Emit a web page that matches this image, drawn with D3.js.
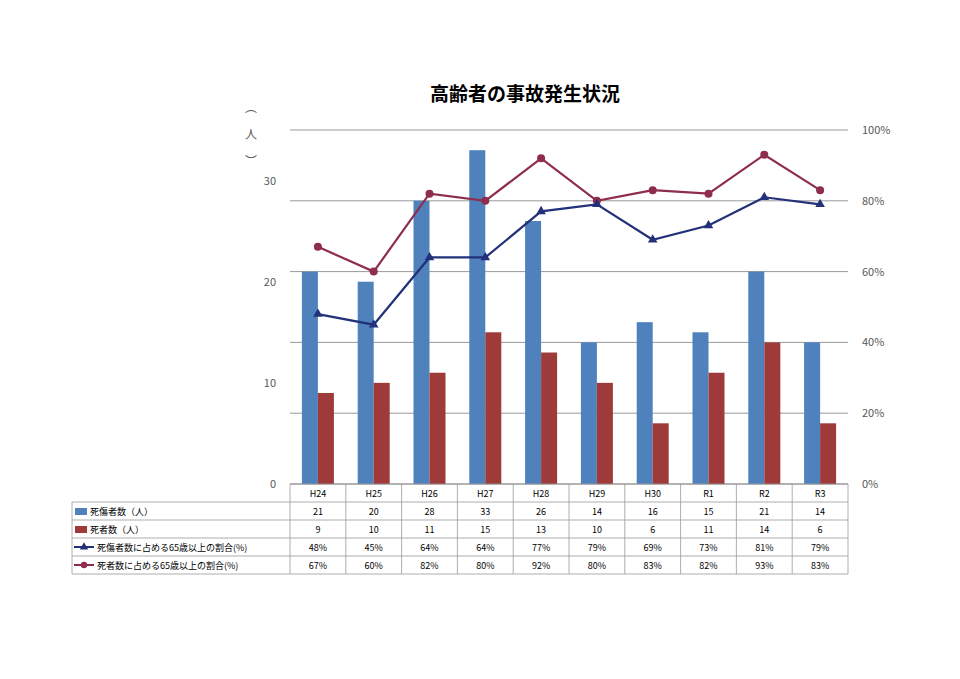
<!DOCTYPE html><html><head><meta charset="utf-8"><script src="https://d3js.org/d3.v7.min.js"></script>
<style>body{margin:0;background:#fff}text{font-family:"Noto Sans CJK JP","Noto Sans",sans-serif}</style></head><body>
<svg id="c" width="960" height="679"></svg>
<script>
const categories=["H24","H25","H26","H27","H28","H29","H30","R1","R2","R3"];
const casualties=[21,20,28,33,26,14,16,15,21,14];
const deaths=[9,10,11,15,13,10,6,11,14,6];
const casualtyPct=[48,45,64,64,77,79,69,73,81,79];
const deathPct=[67,60,82,80,92,80,83,82,93,83];
const leftTicks=[0,10,20,30];
const rightTicks=[0,20,40,60,80,100];
const seriesNames=["死傷者数（人）","死者数（人）","死傷者数に占める65歳以上の割合(%)","死者数に占める65歳以上の割合(%)"];
const colors=["#4F81BD","#9E3A3A","#22317A","#8E2D4E"];

const svg=d3.select("#c");
const L=290,R=848,T=130,B=484;
const x=d3.scaleBand().domain(categories).range([L,R]);
const yL=d3.scaleLinear().domain([0,35]).range([B,T]);
const yR=d3.scaleLinear().domain([0,100]).range([B,T]);

svg.append("text").attr("x",525).attr("y",101).attr("text-anchor","middle").attr("font-size",19).attr("font-weight","bold").text("高齢者の事故発生状況");

rightTicks.forEach(t=>{
 svg.append("line").attr("x1",L).attr("x2",R).attr("y1",yR(t)).attr("y2",yR(t)).attr("stroke",t==0?"#888":"#999").attr("stroke-width",1);
 svg.append("text").attr("x",862).attr("y",yR(t)+4).attr("font-size",11).attr("fill","#595959").text(t+"%");
});
leftTicks.forEach(t=>{
 svg.append("text").attr("x",276).attr("y",yL(t)+4).attr("text-anchor","end").attr("font-size",11).attr("fill","#595959").text(t);
});
["︵","人","︶"].forEach((c,i)=>svg.append("text").attr("x",251).attr("y",112+i*27).attr("text-anchor","middle").attr("font-size",12).attr("fill","#595959").text(c));

const bw=16;
categories.forEach((c,i)=>{
 const cx=x(c)+x.bandwidth()/2;
 svg.append("rect").attr("x",cx-bw).attr("width",bw).attr("y",yL(casualties[i])).attr("height",B-yL(casualties[i])).attr("fill",colors[0]);
 svg.append("rect").attr("x",cx).attr("width",bw).attr("y",yL(deaths[i])).attr("height",B-yL(deaths[i])).attr("fill",colors[1]);
});
const cxs=categories.map(c=>x(c)+x.bandwidth()/2);
const line=d3.line();
svg.append("path").attr("d",line(cxs.map((c,i)=>[c,yR(deathPct[i])]))).attr("fill","none").attr("stroke",colors[3]).attr("stroke-width",2.2);
svg.append("path").attr("d",line(cxs.map((c,i)=>[c,yR(casualtyPct[i])]))).attr("fill","none").attr("stroke",colors[2]).attr("stroke-width",2.2);
cxs.forEach((c,i)=>{
 svg.append("circle").attr("cx",c).attr("cy",yR(deathPct[i])).attr("r",4).attr("fill",colors[3]);
 svg.append("path").attr("transform",`translate(${c},${yR(casualtyPct[i])})`).attr("d",d3.symbol(d3.symbolTriangle,40)()).attr("fill",colors[2]);
});

// table
const TL=72,rowH=18;
const g=svg.append("g").attr("stroke","#999").attr("stroke-width",0.8);
for(let r=0;r<=5;r++){
 const yy=B+r*rowH;
 g.append("line").attr("x1",r==0?L:TL).attr("x2",R).attr("y1",yy).attr("y2",yy);
}
g.append("line").attr("x1",TL).attr("x2",TL).attr("y1",B+rowH).attr("y2",B+5*rowH);
for(let i=0;i<=10;i++){const xx=L+i*x.step();g.append("line").attr("x1",xx).attr("x2",xx).attr("y1",B).attr("y2",B+5*rowH);}
categories.forEach((c,i)=>svg.append("text").attr("x",cxs[i]).attr("y",B+13).attr("text-anchor","middle").attr("font-size",9).text(c));
const rows=[casualties,deaths,casualtyPct.map(v=>v+"%"),deathPct.map(v=>v+"%")];
rows.forEach((row,r)=>{
 const yy=B+(r+1)*rowH;
 row.forEach((v,i)=>svg.append("text").attr("x",cxs[i]).attr("y",yy+13).attr("text-anchor","middle").attr("font-size",9).text(v));
 if(r<2) svg.append("rect").attr("x",75).attr("y",yy+6).attr("width",12).attr("height",7).attr("fill",colors[r]);
 else {
  svg.append("line").attr("x1",74).attr("x2",94).attr("y1",yy+9).attr("y2",yy+9).attr("stroke",colors[r]).attr("stroke-width",2);
  if(r==2) svg.append("path").attr("transform",`translate(84,${yy+9})`).attr("d",d3.symbol(d3.symbolTriangle,30)()).attr("fill",colors[r]);
  else svg.append("circle").attr("cx",84).attr("cy",yy+9).attr("r",3.2).attr("fill",colors[r]);
 }
 svg.append("text").attr("x",r<2?90:97).attr("y",yy+13).attr("font-size",9).text(seriesNames[r]);
});
</script></body></html>
